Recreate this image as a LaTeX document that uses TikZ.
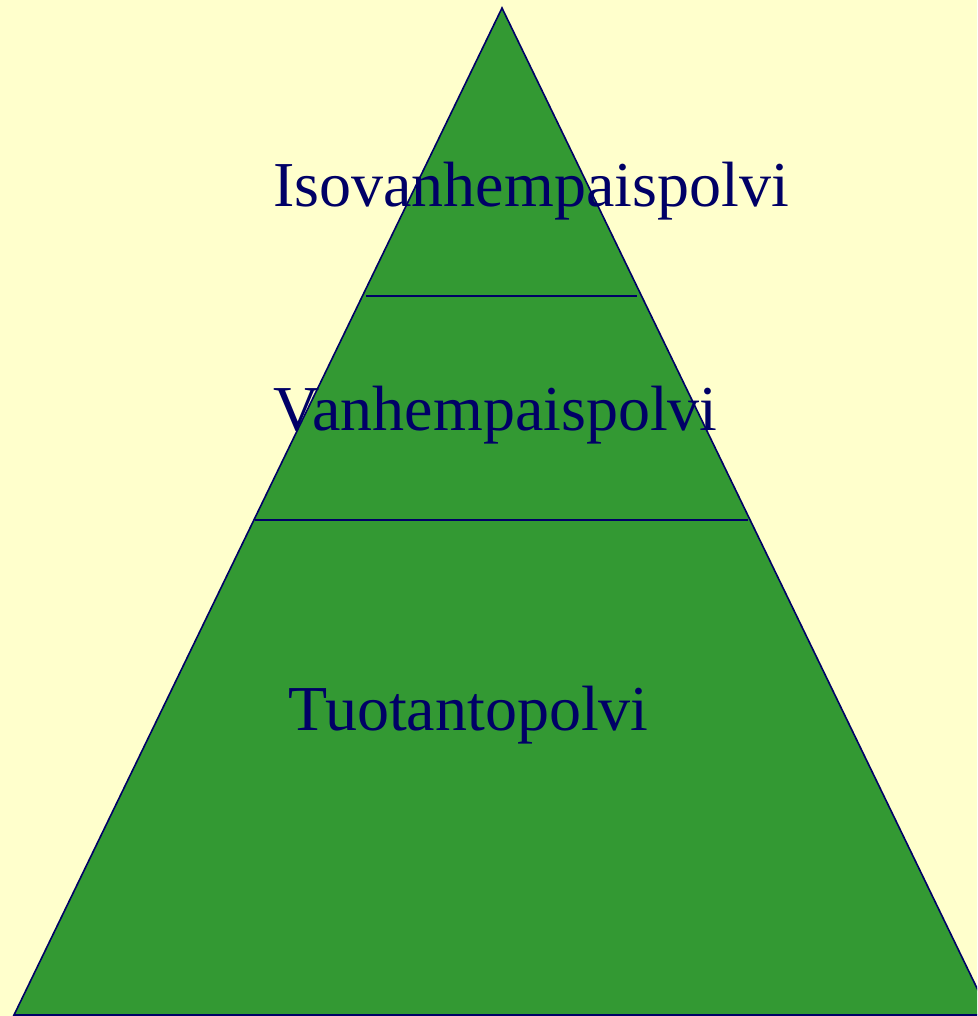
\documentclass[tikz,border=0pt]{standalone}
\usepackage{fontspec}
\setmainfont{Liberation Serif}
\usepackage{tikz}
\definecolor{tausta}{HTML}{FFFFCC}
\definecolor{vihrea}{HTML}{339933}
\definecolor{laivasto}{HTML}{000066}

\begin{document}
\begin{tikzpicture}[x=0.75pt, y=-0.75pt]
                \tikzstyle{polvi} = [anchor=base west, inner sep=0pt, text=laivasto, font=\fontsize{48}{50}\selectfont]
                \clip (0,0) rectangle (977,1016);
                \fill[tausta] (0,0) rectangle (977,1016);
                % pyramidi
                \coordinate (huippu) at (502,8);
                \coordinate (vasen) at (14,1015);
                \coordinate (oikea) at (990,1015);
                \draw[laivasto, fill=vihrea, line width=1.2pt, line join=miter] (huippu) -- (vasen) -- (oikea) -- cycle;
                % rajat
                \coordinate (raja1a) at (366,296);
                \coordinate (raja1b) at (637,296);
                \coordinate (raja2a) at (255,520);
                \coordinate (raja2b) at (748,520);
                \draw[laivasto, line width=1.2pt] (raja1a) -- (raja1b);
                \draw[laivasto, line width=1.2pt] (raja2a) -- (raja2b);
                \node[polvi] (iso) at (273,207) {Isovanhempaispolvi};
                \node[polvi] (vanh) at (273,430) {Vanhempaispolvi};
                \node[polvi] (tuot) at (288,730) {Tuotantopolvi};
            \end{tikzpicture}
\end{document}
